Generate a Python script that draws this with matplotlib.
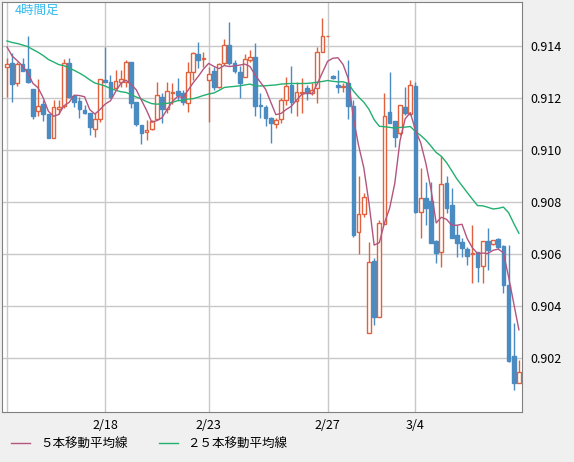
import numpy as np
import pandas as pd
import matplotlib
matplotlib.use("Agg")
import matplotlib.pyplot as plt
from matplotlib.patches import Rectangle
from matplotlib.lines import Line2D

plt.rcParams["font.family"] = ["Noto Sans CJK JP", "DejaVu Sans"]

# ── Data: 4-hour candles, price x 1e5 ────────────────────────────────────────
opens = [91319, 91335, 91258, 91331, 91312, 91235, 91150, 91177, 91138, 91046,
         91158, 91169, 91335, 91208, 91188, 91154, 91142, 91081, 91119, 91269,
         91262, 91238, 91262, 91262, 91338, 91185, 91096, 91069, 91081, 91119,
         91204, 91158, 91219, 91227, 91219, 91181, 91300, 91369, 91350, 91269,
         91304, 91242, 91335, 91404, 91335, 91300, 91281, 91346, 91358, 91173,
         91165, 91123, 91100, 91119, 91192, 91250, 91188, 91219, 91238, 91219,
         91238, 91377, 91438, 91285, 91250, 91242, 91258, 91169, 90685, 90754,
         90296, 90573, 90358, 90715, 91146, 91112, 91065, 91165, 91138, 91246,
         90762, 90815, 90804, 90650, 90608, 90873, 90788, 90673, 90646, 90619,
         90600, 90608, 90554, 90650, 90638, 90658, 90631, 90481, 90208, 90104]
highs = [91354, 91373, 91338, 91354, 91438, 91235, 91273, 91192, 91138, 91192,
         91192, 91350, 91354, 91212, 91204, 91173, 91142, 91142, 91273, 91396,
         91288, 91308, 91308, 91346, 91338, 91185, 91096, 91115, 91115, 91262,
         91219, 91262, 91258, 91277, 91231, 91338, 91377, 91415, 91377, 91319,
         91319, 91335, 91427, 91492, 91346, 91323, 91369, 91385, 91412, 91219,
         91173, 91127, 91123, 91200, 91281, 91323, 91262, 91277, 91250, 91258,
         91396, 91508, 91438, 91288, 91308, 91258, 91346, 91192, 90900, 90835,
         90646, 90585, 90731, 91219, 91300, 91112, 91173, 91242, 91269, 91262,
         90931, 90877, 90877, 90654, 90977, 90900, 90854, 90712, 90662, 90627,
         90712, 90608, 90650, 90700, 90654, 90662, 90635, 90635, 90335, 90192]
lows = [91204, 91185, 91246, 91304, 91258, 91119, 91131, 91112, 91046, 91046,
        91138, 91162, 91200, 91165, 91123, 91138, 91058, 91050, 91108, 91262,
        91200, 91262, 91242, 91242, 91162, 91092, 91023, 91038, 91077, 91115,
        91104, 91142, 91177, 91192, 91173, 91146, 91269, 91315, 91319, 91108,
        91231, 91238, 91327, 91327, 91296, 91200, 91281, 91338, 91131, 91123,
        91092, 91027, 91085, 91104, 91173, 91142, 91131, 91142, 91192, 91212,
        91181, 91377, 91438, 91273, 91219, 91223, 91119, 90665, 90600, 90742,
        90296, 90327, 90358, 90715, 91104, 91012, 91058, 91135, 91135, 90758,
        90662, 90712, 90642, 90565, 90550, 90758, 90662, 90588, 90588, 90558,
        90488, 90492, 90488, 90538, 90635, 90619, 90450, 90185, 90077, 90104]
closes = [91331, 91254, 91331, 91304, 91262, 91131, 91169, 91138, 91046, 91165,
          91165, 91335, 91204, 91185, 91158, 91142, 91088, 91119, 91273, 91262,
          91204, 91265, 91273, 91338, 91181, 91100, 91065, 91077, 91112, 91212,
          91158, 91227, 91223, 91212, 91185, 91300, 91373, 91346, 91354, 91292,
          91242, 91331, 91404, 91335, 91304, 91258, 91350, 91358, 91169, 91169,
          91123, 91104, 91115, 91192, 91246, 91185, 91223, 91223, 91219, 91231,
          91377, 91438, 91440, 91277, 91242, 91246, 91169, 90673, 90754, 90819,
          90569, 90358, 90719, 91131, 91104, 91050, 91173, 91142, 91250, 90762,
          90815, 90777, 90642, 90604, 90869, 90777, 90662, 90642, 90623, 90592,
          90604, 90550, 90650, 90615, 90654, 90627, 90481, 90188, 90104, 90146]
# closes before the visible window (for moving-average warm-up)
prev_closes = [91400, 91430, 91445, 91420, 91410, 91435, 91450, 91425, 91405, 91415,
               91440, 91430, 91410, 91420, 91435, 91445, 91425, 91410, 91420, 91430,
               91430, 91420, 91405, 91395]

date_pos = [0, 19, 39, 62, 79]
date_labels = ["", "2/18", "2/23", "2/27", "3/4"]
y_ticks = [0.902, 0.904, 0.906, 0.908, 0.910, 0.912, 0.914]

C_UP = "#e0613c"
C_DOWN = "#4a8bc2"
C_MA5 = "#b4557f"
C_MA25 = "#22b070"
C_GRID = "#c8c8c8"

o = np.array(opens) / 1e5
h = np.array(highs) / 1e5
l = np.array(lows) / 1e5
c = np.array(closes) / 1e5
allc = pd.Series(np.concatenate([np.array(prev_closes) / 1e5, c]))
n_prev = len(prev_closes)
ma5 = allc.rolling(5).mean().values[n_prev:]
ma25 = allc.rolling(25).mean().values[n_prev:]

fig = plt.figure(figsize=(5.74, 4.62), dpi=100, facecolor="#f0f0f0")
ax = fig.add_axes([2 / 574, 50 / 462, 520 / 574, 410 / 462])
ax.set_facecolor("white")

x = np.arange(len(c))
w = 0.72
for i in x:
    up = c[i] >= o[i]
    col = C_UP if up else C_DOWN
    lo_b, hi_b = min(o[i], c[i]), max(o[i], c[i])
    ax.vlines(i, l[i], lo_b, color=col, linewidth=1, zorder=3)
    ax.vlines(i, hi_b, h[i], color=col, linewidth=1, zorder=3)
    if hi_b - lo_b < 2e-6:
        ax.hlines(lo_b, i - w / 2, i + w / 2, color=col, linewidth=1.2, zorder=4)
    else:
        ax.add_patch(Rectangle((i - w / 2, lo_b), w, hi_b - lo_b,
                               facecolor="white" if up else col,
                               edgecolor=col, linewidth=1, zorder=4))

ax.plot(x, ma25, color=C_MA25, linewidth=1, zorder=5)
ax.plot(x, ma5, color=C_MA5, linewidth=1, zorder=5)

ax.set_xlim(-0.97, 99.6)
ax.set_ylim(0.89993, 0.91569)
ax.set_xticks(date_pos)
ax.set_xticklabels(date_labels, fontsize=9)
ax.set_yticks(y_ticks)
ax.set_yticklabels([f"{v:.3f}" for v in y_ticks], fontsize=9)
ax.yaxis.tick_right()
ax.tick_params(length=0, pad=6)
ax.tick_params(axis="x", pad=5)
ax.grid(True, color=C_GRID, linewidth=1)
ax.set_axisbelow(True)
for s in ax.spines.values():
    s.set_color("#808080")

ax.text(0.025, 0.995, "4時間足", transform=ax.transAxes, color="#33bbee",
        fontsize=9, va="top", ha="left")

handles = [Line2D([], [], color=C_MA5, linewidth=1),
           Line2D([], [], color=C_MA25, linewidth=1)]
fig.legend(handles, ["５本移動平均線", "２５本移動平均線"], loc="lower left",
           bbox_to_anchor=(0.0, 0.0), ncol=2, frameon=False, fontsize=9,
           handlelength=1.5, columnspacing=2.5)

fig.savefig("out.png", dpi=100, facecolor=fig.get_facecolor())
